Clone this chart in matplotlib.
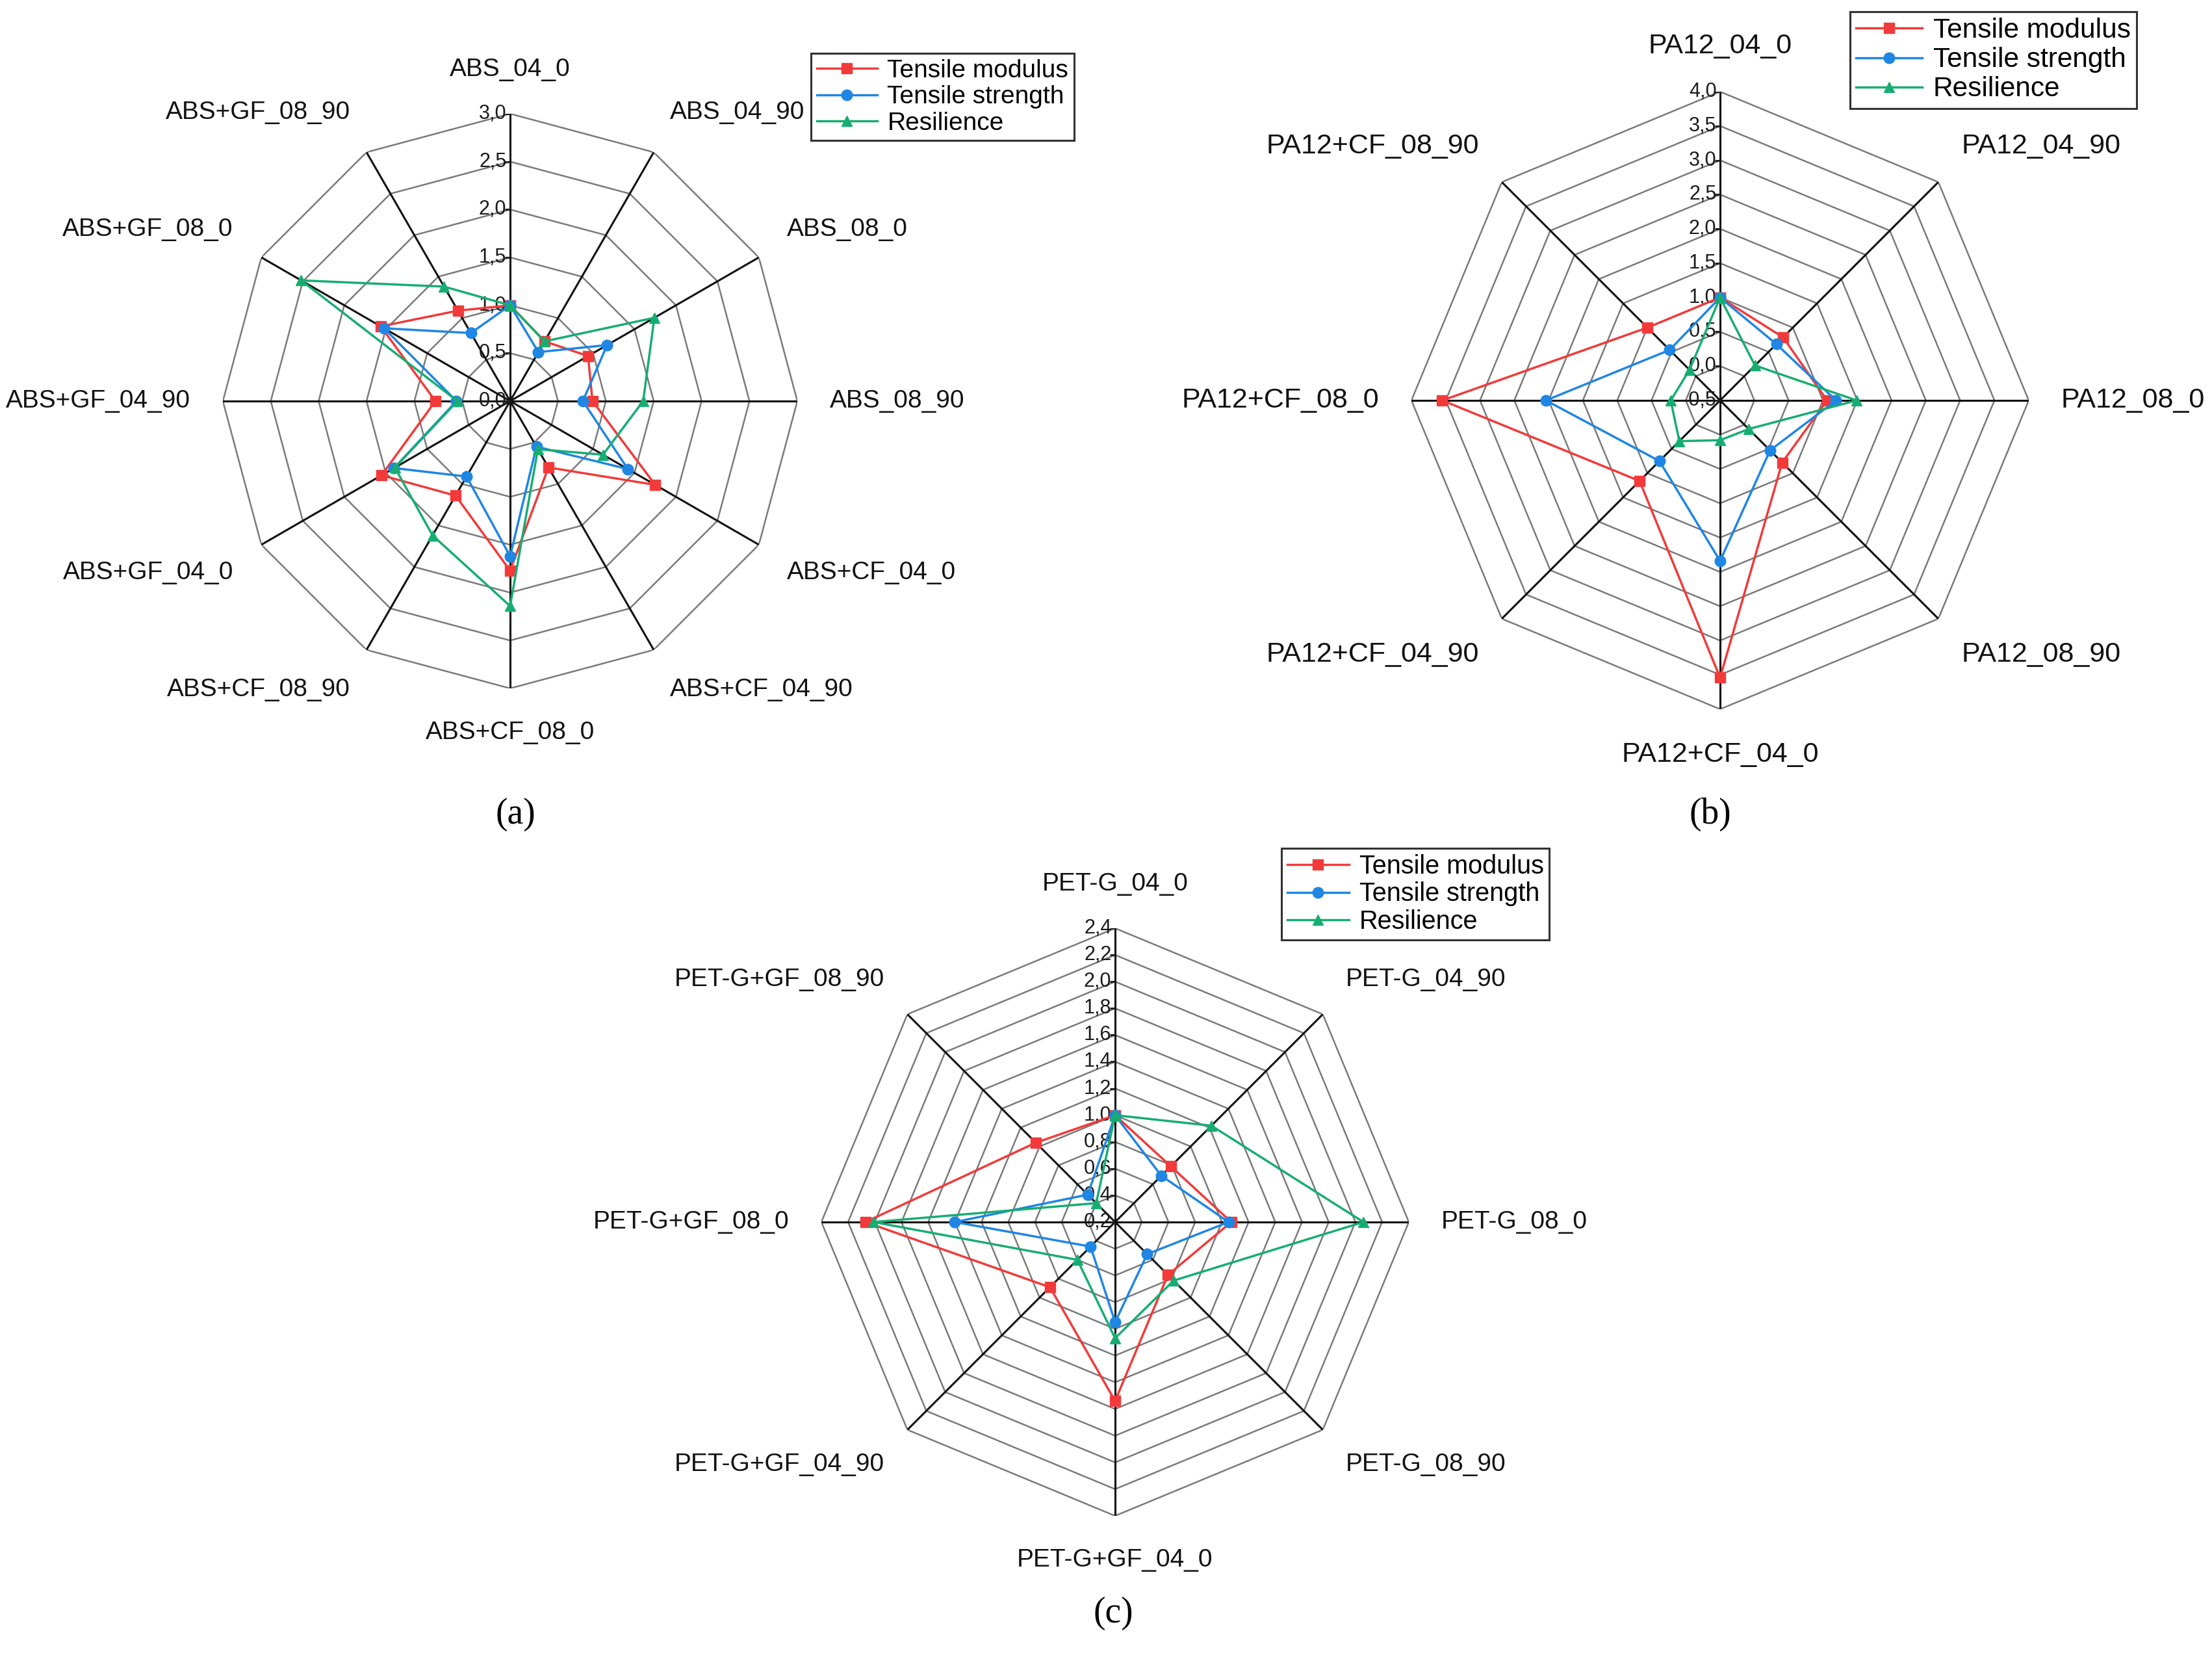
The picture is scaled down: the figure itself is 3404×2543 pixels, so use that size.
import matplotlib
matplotlib.use('Agg')
import matplotlib.pyplot as plt
import numpy as np

plt.rcParams['font.family'] = ['Liberation Sans', 'DejaVu Sans']

# Panel (a)
a_labels = ['ABS_04_0', 'ABS_04_90', 'ABS_08_0', 'ABS_08_90', 'ABS+CF_04_0', 'ABS+CF_04_90',
            'ABS+CF_08_0', 'ABS+CF_08_90', 'ABS+GF_04_0', 'ABS+GF_04_90', 'ABS+GF_08_0', 'ABS+GF_08_90']
a_modulus = [1.0, 0.72, 0.94, 0.86, 1.75, 0.80, 1.77, 1.14, 1.55, 0.78, 1.56, 1.09]
a_strength = [1.0, 0.59, 1.17, 0.76, 1.42, 0.55, 1.62, 0.91, 1.40, 0.56, 1.52, 0.82]
a_resilience = [1.0, 0.72, 1.74, 1.39, 1.12, 0.58, 2.14, 1.62, 1.39, 0.55, 2.52, 1.38]
a_ticks = [0.0, 0.5, 1.0, 1.5, 2.0, 2.5, 3.0]

# Panel (b)
b_labels = ['PA12_04_0', 'PA12_04_90', 'PA12_08_0', 'PA12_08_90',
            'PA12+CF_04_0', 'PA12+CF_04_90', 'PA12+CF_08_0', 'PA12+CF_08_90']
b_modulus = [1.0, 0.80, 1.06, 0.78, 3.54, 1.16, 3.55, 1.00]
b_strength = [1.0, 0.66, 1.19, 0.53, 1.84, 0.75, 2.04, 0.54]
b_resilience = [1.0, 0.22, 1.49, 0.09, 0.08, 0.34, 0.22, 0.13]
b_ticks = [-0.5, 0.0, 0.5, 1.0, 1.5, 2.0, 2.5, 3.0, 3.5, 4.0]

# Panel (c)
c_labels = ['PET-G_04_0', 'PET-G_04_90', 'PET-G_08_0', 'PET-G_08_90',
            'PET-G+GF_04_0', 'PET-G+GF_04_90', 'PET-G+GF_08_0', 'PET-G+GF_08_90']
c_modulus = [1.0, 0.79, 1.07, 0.76, 1.54, 0.89, 2.07, 1.04]
c_strength = [1.0, 0.69, 1.05, 0.54, 0.95, 0.46, 1.40, 0.49]
c_resilience = [1.0, 1.22, 2.06, 0.82, 1.07, 0.60, 2.01, 0.40]
c_ticks = [0.2, 0.4, 0.6, 0.8, 1.0, 1.2, 1.4, 1.6, 1.8, 2.0, 2.2, 2.4]

series_names = ['Tensile modulus', 'Tensile strength', 'Resilience']
series_colors = ['#f23a3a', '#1f86e3', '#17ad72']
series_markers = ['s', 'o', '^']
series_ms = [12, 12, 11]

W, H = 3405, 2543
fig = plt.figure(figsize=(W / 100, H / 100), dpi=100)


def radar(center, R, labels, values, ticks, fs, legend_box, panel, panel_xy):
    cx, cy = center
    ax = fig.add_axes([(cx - R) / W, 1 - (cy + R) / H, 2 * R / W, 2 * R / H], projection='polar')
    ax.set_theta_zero_location('N')
    ax.set_theta_direction(-1)
    ax.grid(False)
    ax.spines['polar'].set_visible(False)
    ax.set_xticks([])
    ax.set_yticks([])
    ax.patch.set_alpha(0)

    n = len(labels)
    ang = np.linspace(0, 2 * np.pi, n, endpoint=False)
    ang_c = np.append(ang, ang[0])
    rmin, rmax = ticks[0], ticks[-1]

    # polygon grid
    for t in ticks[1:]:
        ax.plot(ang_c, [t] * (n + 1), color='#7a7a7a', lw=1.8, zorder=1)
    for a in ang:
        ax.plot([a, a], [rmin, rmax], color='#111111', lw=2.2, zorder=2)

    # radial ticks + labels on top spoke
    ax.plot([0] * len(ticks), ticks, ls='none', marker=0, ms=6, mew=1.8, color='#222222', zorder=2)
    for t in ticks:
        ax.annotate(f"{t:.1f}".replace('.', ','), xy=(0, t), xytext=(-4, 0), textcoords='offset points',
                    ha='right', va='center', fontsize=22, color='#1a1a1a', zorder=3)

    # data series
    handles = []
    for vals, name, col, mk, ms in zip(values, series_names, series_colors, series_markers, series_ms):
        h, = ax.plot(ang_c, list(vals) + [vals[0]], color=col, lw=2.5, marker=mk, ms=ms,
                     label=name, zorder=4, clip_on=False)
        handles.append(h)

    ax.set_ylim(rmin, rmax)

    # category labels
    g = 36
    for a, lab in zip(ang, labels):
        s, c = np.sin(a), np.cos(a)
        ha = 'left' if s > 0.3 else ('right' if s < -0.3 else 'center')
        va = 'bottom' if c > 0.3 else ('top' if c < -0.3 else 'center')
        ax.annotate(lab, xy=(a, rmax), xytext=(g * s, g * c), textcoords='offset points',
                    ha=ha, va=va, fontsize=fs, color='#111111', annotation_clip=False)

    lx, ly, lfs = legend_box
    leg = ax.legend(handles=handles, loc='upper left', bbox_to_anchor=(lx / W, 1 - ly / H),
                    bbox_transform=fig.transFigure, borderaxespad=0, fontsize=lfs,
                    frameon=True, fancybox=False, framealpha=1, edgecolor='#333333',
                    handlelength=2.4, handletextpad=0.4, labelspacing=0.12, borderpad=0.22)
    leg.get_frame().set_linewidth(2.2)

    fig.text(panel_xy[0] / W, 1 - panel_xy[1] / H, panel, ha='center', va='center',
             fontsize=40, family='Liberation Serif')


radar((785, 617), 442, a_labels, [a_modulus, a_strength, a_resilience], a_ticks, 28,
      (1248, 82, 28), '(a)', (793, 1253))
radar((2647, 616), 475, b_labels, [b_modulus, b_strength, b_resilience], b_ticks, 31,
      (2847, 18, 30.5), '(b)', (2632, 1253))
radar((1716, 1880), 452, c_labels, [c_modulus, c_strength, c_resilience], c_ticks, 28,
      (1972, 1305, 28.5), '(c)', (1713, 2482))

fig.savefig('out.png', dpi=100, facecolor='white')
plt.close(fig)
